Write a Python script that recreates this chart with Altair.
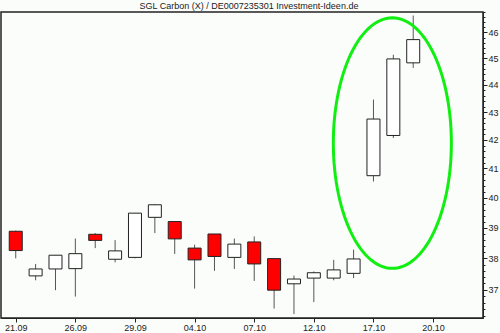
import altair as alt
import numpy as np
import pandas as pd

# ---- data ----
day_idx = list(range(21))
open_ = [38.88, 37.44, 37.66, 37.67, 38.78, 37.97, 38.03, 39.34, 39.20, 38.33, 38.79,
         38.03, 38.53, 37.99, 37.19, 37.37, 37.37, 37.52, 40.75, 42.16, 44.83]
high = [38.90, 37.82, 38.10, 38.64, 38.82, 38.59, 39.48, 39.78, 39.20, 38.44, 38.79,
        38.64, 38.71, 37.99, 37.45, 37.58, 37.95, 38.28, 43.46, 45.14, 46.66]
low = [38.00, 37.30, 36.99, 36.79, 38.33, 37.87, 38.00, 38.82, 38.14, 37.04, 37.60,
       37.66, 37.28, 36.42, 36.25, 36.62, 37.30, 37.37, 40.55, 42.07, 44.64]
close = [38.25, 37.66, 38.10, 38.15, 38.58, 38.24, 39.48, 39.76, 38.63, 37.95, 38.06,
         38.46, 37.82, 36.99, 37.34, 37.54, 37.63, 37.98, 42.75, 44.98, 45.72]

tick_pos = [0, 3, 6, 9, 12, 15, 18, 21]
tick_labels = ["21.09", "26.09", "29.09", "04.10", "07.10", "12.10", "17.10", "20.10"]

y_ticks = [round(36.2 + 0.2 * k, 1) for k in range(54)]

title_text = ["SGL Carbon (X) / DE0007235301 Investment-Ideen.de"]

# ellipse annotation (data units: index, price on log scale)
ell_cx, ell_rx = 18.95, 2.97
ell_cy, ell_lo, ell_hi = 41.89, 37.67, 46.56

df = pd.DataFrame({"i": day_idx, "open": open_, "high": high, "low": low, "close": close})

t = np.linspace(0, 2 * np.pi, 121)
lc = np.log(ell_cy)
hr = (np.log(ell_hi) - np.log(ell_lo)) / 2
ell = pd.DataFrame({
    "i": ell_cx + ell_rx * np.cos(t),
    "v": np.exp(lc + hr * np.sin(t)),
    "k": np.arange(len(t)),
})

xscale = alt.Scale(domain=[-0.49, 23.26], nice=False, zero=False)
yscale = alt.Scale(type="log", domain=[36.13, 46.8], nice=False, zero=False)

label_arr = "[" + ",".join("'%s'" % s for s in tick_labels) + "]"

xaxis = alt.Axis(values=tick_pos, labelExpr=label_arr + "[round(datum.value/3)]",
                 title=None, grid=False, tickSize=4, labelPadding=1, labelFontSize=9,
                 labelFont="Liberation Sans", labelColor="#222", tickColor="#222",
                 domainColor="#222", labelFlush=False)
yaxis = alt.Axis(orient="right", values=y_ticks, title=None, grid=False,
                 tickSize={"condition": {"test": "abs(datum.value - round(datum.value)) < 0.01", "value": 4}, "value": 2},
                 labelExpr="abs(datum.value - round(datum.value)) < 0.01 ? format(datum.value, 'd') : ''",
                 labelOverlap=False, labelPadding=1, labelFontSize=9, labelFont="Liberation Sans",
                 labelColor="#222", tickColor="#222", domainColor="#222", labelBaseline="middle")

base = alt.Chart(df)

wick = base.mark_rule(color="#555", strokeWidth=1).encode(
    x=alt.X("i:Q", scale=xscale, axis=xaxis),
    y=alt.Y("low:Q", scale=yscale, axis=yaxis),
    y2="high:Q",
)

body = base.mark_bar(size=13, stroke="#222", strokeWidth=1).encode(
    x=alt.X("i:Q", scale=xscale),
    y=alt.Y("open:Q", scale=yscale),
    y2="close:Q",
    fill=alt.condition("datum.close < datum.open", alt.value("#ff0000"), alt.value("#ffffff")),
)

ellipse = alt.Chart(ell).mark_line(color="#11ee11", strokeWidth=3).encode(
    x=alt.X("i:Q", scale=xscale),
    y=alt.Y("v:Q", scale=yscale),
    order="k:Q",
)

title = alt.Chart(pd.DataFrame({"t": title_text})).mark_text(
    font="Liberation Sans", fontSize=9, color="#222", align="center", baseline="alphabetic"
).encode(text="t:N", x=alt.value(248), y=alt.value(-3))

chart = alt.layer(wick, body, ellipse, title).properties(
    width=482, height=306,
    autosize=alt.AutoSizeParams(type="none"),
    padding={"left": 1, "top": 12, "right": 17, "bottom": 15},
    background="#fbfdfb",
).configure_view(stroke="#222", strokeWidth=1.5)

chart.save("out.html", embed_options={"renderer": "svg", "actions": False})
